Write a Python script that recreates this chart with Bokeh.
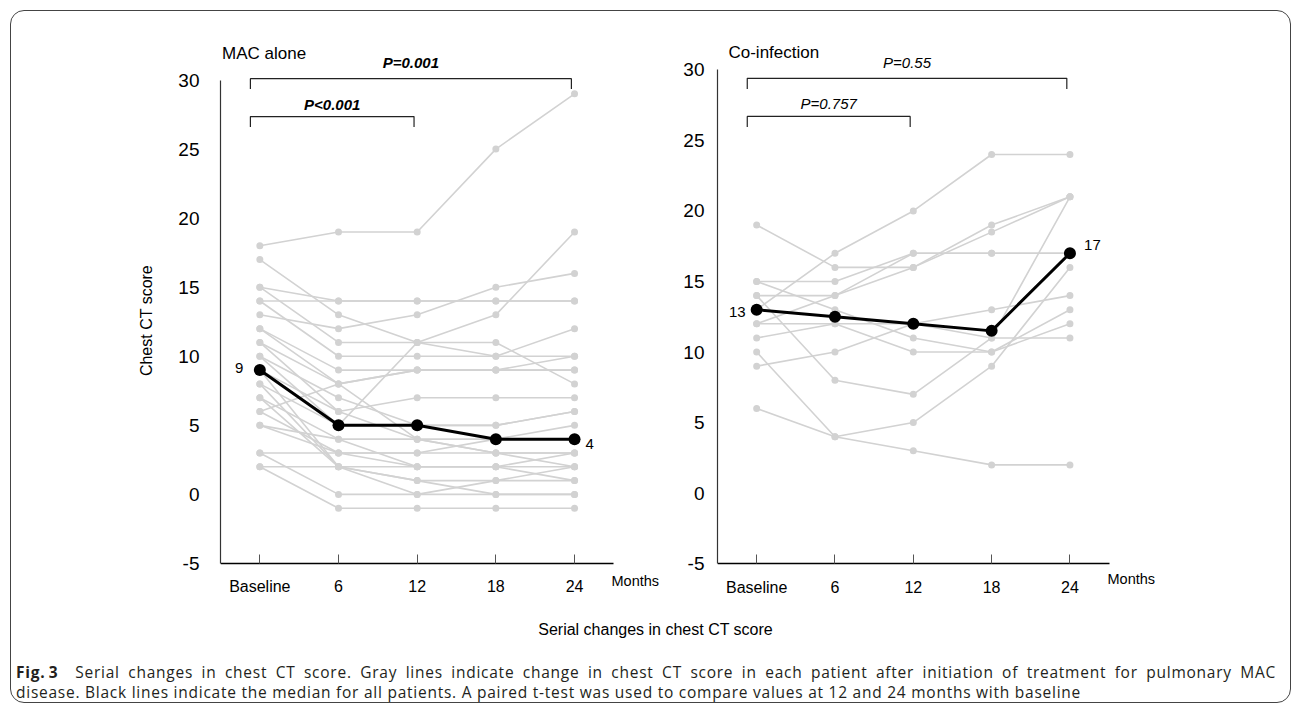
from bokeh.plotting import figure
from bokeh.models import Label, FixedTicker, Div, Range1d
from bokeh.layouts import row, column
from bokeh.embed import file_html
from bokeh.resources import INLINE

# ---------------- data ----------------
months = ["Baseline", "6", "12", "18", "24"]
y_ticks = [-5, 0, 5, 10, 15, 20, 25, 30]

mac_patients = [
    [18, 19, 19, 25, 29],
    [17, 13, 11, 13, 19],
    [15, 14, 14, 14, 14],
    [14, 14, 14, 14, 14],
    [13, 12, 13, 15, 16],
    [15, 11, 11, 11, 8],
    [14, 10, 10, 10, 12],
    [12, 9, 9, 9, 10],
    [11, 8, 9, 9, 9],
    [11, 6, 7, 7, 7],
    [10, 7, 5, 5, 6],
    [10, 5, 11, 10, 10],
    [12, 8, 4, 3, 3],
    [9, 6, 4, 4, 5],
    [8, 5, 5, 5, 6],
    [7, 4, 2, 2, 2],
    [6, 8, 9, 9, 9],
    [5, 3, 3, 3, 3],
    [3, 0, 0, 1, 2],
    [2, -1, -1, -1, -1],
    [8, 2, 1, 0, 0],
    [6, 3, 3, 4, 4],
    [7, 2, 2, 2, 1],
    [5, 4, 4, 3, 2],
    [9, 2, 0, 0, 0],
    [3, 3, 2, 2, 3],
    [2, 2, 1, 1, 1],
]
mac_median = [9, 5, 5, 4, 4]
mac_pvalues = ["P<0.001", "P=0.001"]

co_patients = [
    [13, 17, 20, 24, 24],
    [19, 16, 16, 18.5, 21],
    [15, 15, 17, 17, 17],
    [14, 14, 16, 19, 21],
    [12, 14, 17, 17, 17],
    [15, 13, 11, 10, 12],
    [14, 8, 7, 11, 21],
    [9, 10, 12, 13, 14],
    [10, 4, 5, 9, 16],
    [6, 4, 3, 2, 2],
    [12, 12, 10, 10, 13],
    [11, 12, 12, 11, 11],
]
co_median = [13, 12.5, 12, 11.5, 17]
co_pvalues = ["P=0.757", "P=0.55"]

compare_pairs = [(0, 2), (0, 4)]

GRAY = "#d2d2d2"
FONT = "Liberation Sans"


def make_panel(patients, median, title, pvalues, pbold, width, border_left,
               border_right, y_start, y_end, x_end, ylabel, tick_standoff,
               bracket_y, ptext_y, title_pos, med_labels, months_pos):
    p = figure(width=width, height=589, output_backend="svg",
               toolbar_location=None, x_range=Range1d(-0.5, x_end),
               y_range=Range1d(y_start, y_end), min_border_left=border_left,
               min_border_right=border_right, min_border_top=29,
               min_border_bottom=0)
    p.outline_line_color = None
    p.grid.visible = False
    p.background_fill_color = None
    p.border_fill_color = None

    xs = list(range(len(months)))
    for pat in patients:
        p.line(xs, pat, line_color=GRAY, line_width=1.6)
        p.scatter(xs, pat, size=7, fill_color=GRAY, line_color=None)
    p.line(xs, median, line_color="black", line_width=3)
    p.scatter(xs, median, size=12, fill_color="black", line_color=None)

    # x axis (sits at y = -5)
    xa = p.xaxis[0]
    xa.fixed_location = y_ticks[0]
    xa.bounds = (-0.5, 4.5)
    xa.ticker = FixedTicker(ticks=xs)
    xa.major_label_overrides = {i: m for i, m in enumerate(months)}
    xa.major_tick_in = 9
    xa.major_tick_out = 0
    xa.major_tick_line_color = "#555555"
    xa.minor_tick_line_color = None
    xa.axis_line_color = "black"
    xa.axis_line_width = 1.5
    xa.major_label_text_font = FONT
    xa.major_label_text_font_size = "16px"
    xa.major_label_text_color = "black"
    xa.major_label_standoff = 15

    # y axis
    ya = p.yaxis[0]
    ya.bounds = (y_ticks[0], y_ticks[-1])
    ya.ticker = FixedTicker(ticks=y_ticks)
    ya.major_label_overrides = {t: str(t) for t in y_ticks}
    ya.major_tick_in = 0
    ya.major_tick_out = 0
    ya.minor_tick_line_color = None
    ya.axis_line_color = "#333333"
    ya.axis_line_width = 1.2
    ya.major_label_text_font = FONT
    ya.major_label_text_font_size = "19px"
    ya.major_label_text_color = "black"
    ya.major_label_standoff = tick_standoff
    if ylabel:
        ya.axis_label = ylabel
        ya.axis_label_text_font = FONT
        ya.axis_label_text_font_size = "16px"
        ya.axis_label_text_font_style = "normal"
        ya.axis_label_text_color = "black"
        ya.axis_label_standoff = 20

    # significance brackets
    for (i, j), txt, by, ty in zip(compare_pairs, pvalues, bracket_y, ptext_y):
        x0, x1 = i - 0.12, j - 0.04
        p.line([x0, x0, x1, x1], [by - 0.75, by, by, by - 0.75],
               line_color="#222222", line_width=1.2)
        p.add_layout(Label(x=(x0 + x1) / 2, y=ty, text=txt,
                           text_align="center", text_baseline="middle",
                           text_font=FONT, text_font_size="15px",
                           text_font_style="bold italic" if pbold else "italic",
                           text_color="black"))

    p.add_layout(Label(x=title_pos[0], y=title_pos[1], text=title,
                       text_align="left", text_baseline="middle",
                       text_font=FONT, text_font_size="17px",
                       text_color="black"))
    for (lx, ly, txt, al) in med_labels:
        p.add_layout(Label(x=lx, y=ly, text=txt, text_align=al,
                           text_baseline="middle", text_font=FONT,
                           text_font_size="15px", text_color="black"))
    p.add_layout(Label(x=months_pos[0], y=months_pos[1], text="Months",
                       text_align="left", text_baseline="middle",
                       text_font=FONT, text_font_size="14.5px",
                       text_color="black"))
    return p


p1 = make_panel(mac_patients, mac_median, "MAC alone", mac_pvalues, True,
                width=661, border_left=209, border_right=13,
                y_start=-7.68, y_end=32.86, x_end=5.08,
                ylabel="Chest CT score", tick_standoff=21,
                bracket_y=[27.35, 30.1], ptext_y=[28.2, 31.27],
                title_pos=(-0.48, 31.9),
                med_labels=[(-0.21, 9.15, str(mac_median[0]), "right"),
                            (4.14, 3.68, str(mac_median[-1]), "left")],
                months_pos=(4.47, -6.25))

p2 = make_panel(co_patients, co_median, "Co-infection", co_pvalues, False,
                width=618, border_left=45, border_right=125,
                y_start=-7.61, y_end=32.08, x_end=5.22,
                ylabel=None, tick_standoff=13,
                bracket_y=[26.7, 29.4], ptext_y=[27.6, 30.5],
                title_pos=(-0.36, 31.2),
                med_labels=[(-0.14, 12.85, str(co_median[0]), "right"),
                            (4.18, 17.6, str(co_median[-1]), "left")],
                months_pos=(4.48, -6.1))

xlabel_div = Div(
    text=('<div style="width:1279px;height:49px;padding-top:11px;'
          'line-height:38px;text-align:center;padding-left:10px;'
          'box-sizing:border-box;font-family:\'Liberation Sans\';'
          'font-size:16px;color:black;">'
          'Serial changes in chest CT score</div>'),
    width=1279, height=49, margin=0)

cap_style = ("font-family:'Open Sans';font-size:15.5px;letter-spacing:0.75px;"
             "line-height:19.5px;color:#231f20;")
caption_div = Div(
    text=('<div style="width:1279px;padding-top:14px;padding-left:5px;'
          'box-sizing:border-box;' + cap_style + '">'
          '<div style="width:1260px;text-align:justify;text-align-last:justify;">'
          '<b>Fig.&thinsp;3</b>&nbsp;&nbsp;Serial changes in chest CT score. Gray lines '
          'indicate change in chest CT score in each patient after initiation of '
          'treatment for pulmonary MAC</div>'
          '<div style="white-space:nowrap;">disease. Black lines indicate the median '
          'for all patients. A paired t-test was used to compare values at 12 and '
          '24 months with baseline</div></div>'),
    width=1279, height=53, margin=0)

layout = column(row(p1, p2), xlabel_div, caption_div, margin=(10, 0, 0, 10),
                styles={"border": "1px solid #444444", "border-radius": "14px"})

open("out.html", "w").write(file_html(layout, INLINE))
